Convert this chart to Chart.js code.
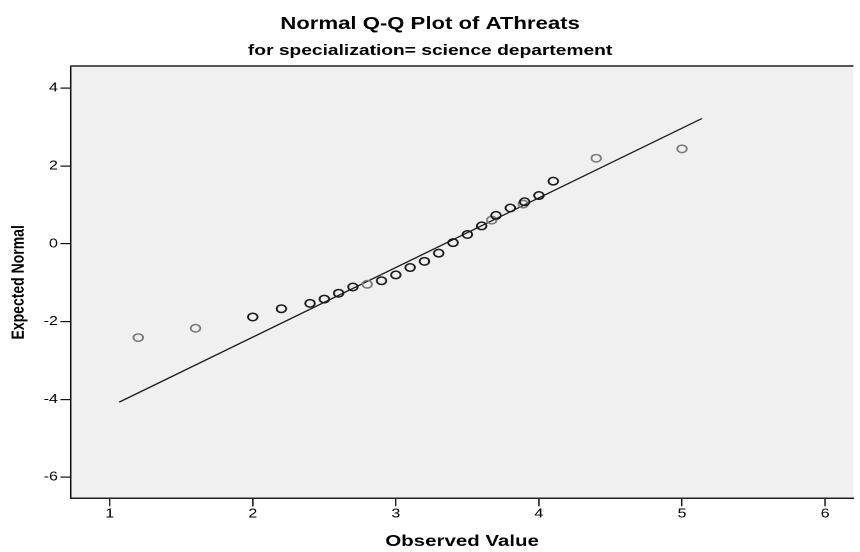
<!DOCTYPE html>
<html>
<head>
<meta charset="utf-8">
<title>Normal Q-Q Plot of AThreats</title>
<script src="https://cdn.jsdelivr.net/npm/chart.js@4.4.1/dist/chart.umd.min.js"></script>
<style>
  html, body { margin: 0; padding: 0; background: #fff; overflow: hidden; }
  /* the SPSS export is rendered wide, so the drawing is stretched sideways */
  #wrap { width: 672px; height: 552px; transform: scaleX(1.28); transform-origin: 0 0; }
</style>
</head>
<body>
<div id="wrap"><canvas id="qq" width="672" height="552"></canvas></div>
<script>
// observed AThreats scores and their expected normal values
var observed = [1.2, 1.6, 2.0, 2.2, 2.4, 2.5, 2.6, 2.7, 2.8, 2.9, 3.0, 3.1, 3.2,
                3.3, 3.4, 3.5, 3.6, 3.67, 3.7, 3.8, 3.89, 3.9, 4.0, 4.1, 4.4, 5.0];
var expected = [-2.41, -2.17, -1.88, -1.67, -1.53, -1.42, -1.27, -1.11, -1.04, -0.95, -0.80, -0.61, -0.45,
                -0.24, 0.03, 0.24, 0.46, 0.61, 0.73, 0.92, 1.02, 1.08, 1.24, 1.61, 2.20, 2.44];
// 1 where several cases sit on the same spot (drawn darker)
var repeated = [0, 0, 1, 1, 1, 1, 1, 1, 0, 1, 1, 1, 1,
                1, 1, 1, 1, 0, 1, 1, 0, 1, 1, 1, 0, 0];

// reference line ends
var lineX = [1.066, 5.139];
var lineY = [-4.07, 3.22];

var xTicks = [1, 2, 3, 4, 5, 6];
var yTicks = [-6, -4, -2, 0, 2, 4];

var points = [];
for (var i = 0; i < observed.length; i++) {
  points.push({ x: observed[i], y: expected[i] });
}
var refLine = [{ x: lineX[0], y: lineY[0] }, { x: lineX[1], y: lineY[1] }];

Chart.defaults.font.family = "'Liberation Sans', Arial, sans-serif";
Chart.defaults.color = '#000';

// grey plot background and the dark frame line along the top
var plotFrame = {
  id: 'plotFrame',
  beforeDraw: function(chart) {
    var a = chart.chartArea, ctx = chart.ctx;
    ctx.save();
    ctx.fillStyle = '#f0f0f0';
    ctx.fillRect(a.left, a.top, a.right - a.left, a.bottom - a.top);
    ctx.restore();
  },
  afterDraw: function(chart) {
    var a = chart.chartArea, ctx = chart.ctx;
    ctx.save();
    ctx.strokeStyle = '#555';
    ctx.lineWidth = 2;
    ctx.beginPath();
    ctx.moveTo(a.left, a.top - 0.3);
    ctx.lineTo(a.right, a.top - 0.3);
    ctx.stroke();
    ctx.restore();
  }
};

var ctx = document.getElementById('qq').getContext('2d');
var chart = new Chart(ctx, {
  type: 'scatter',
  data: {
    datasets: [{
      data: points,
      pointRadius: 3.75,
      pointHoverRadius: 3.75,
      pointBorderWidth: 1.5,
      pointBackgroundColor: 'rgba(0,0,0,0)',
      pointBorderColor: repeated.map(function(r) { return r ? '#1a1a1a' : '#7a7a7a'; })
    }, {
      data: refLine,
      showLine: true,
      borderColor: '#1a1a1a',
      borderWidth: 1.2,
      pointRadius: 0,
      fill: false
    }]
  },
  options: {
    responsive: false,
    animation: false,
    devicePixelRatio: 2,
    layout: { padding: 0 },
    plugins: {
      legend: { display: false },
      tooltip: { enabled: false },
      title: {
        display: true,
        text: 'Normal Q-Q Plot of AThreats',
        font: { size: 17.3, weight: 'bold' },
        color: '#000',
        padding: { top: 14, bottom: 7 }
      },
      subtitle: {
        display: true,
        text: 'for specialization= science departement',
        font: { size: 15, weight: 'bold' },
        color: '#000',
        padding: { top: 0, bottom: 6.6 }
      }
    },
    scales: {
      x: {
        type: 'linear',
        min: 0.7277,
        max: 6.198,
        afterBuildTicks: function(scale) {
          scale.ticks = xTicks.map(function(v) { return { value: v }; });
        },
        afterFit: function(scale) { scale.height = 53.7; },
        ticks: { font: { size: 12.5 }, color: '#000', padding: 0 },
        grid: { drawOnChartArea: false, drawTicks: true, tickLength: 8, color: '#222', lineWidth: 1.2 },
        border: { display: true, color: '#222', width: 1.5 },
        title: {
          display: true,
          text: 'Observed Value',
          font: { size: 16, weight: 'bold' },
          color: '#000',
          padding: { top: 0, bottom: 1 }
        }
      },
      y: {
        type: 'linear',
        min: -6.54,
        max: 4.56,
        afterBuildTicks: function(scale) {
          scale.ticks = yTicks.map(function(v) { return { value: v }; });
        },
        afterFit: function(scale) { scale.width = 55.23; },
        ticks: { font: { size: 12.5 }, color: '#000', padding: 2 },
        grid: { drawOnChartArea: false, drawTicks: true, tickLength: 8, color: '#111', lineWidth: 1.2 },
        border: { display: true, color: '#111', width: 1.3 },
        title: {
          display: true,
          text: 'Expected Normal',
          font: { size: 14, weight: 'bold' },
          color: '#000',
          padding: { top: 6.4, bottom: 0 }
        }
      }
    }
  },
  plugins: [plotFrame]
});
</script>
</body>
</html>
